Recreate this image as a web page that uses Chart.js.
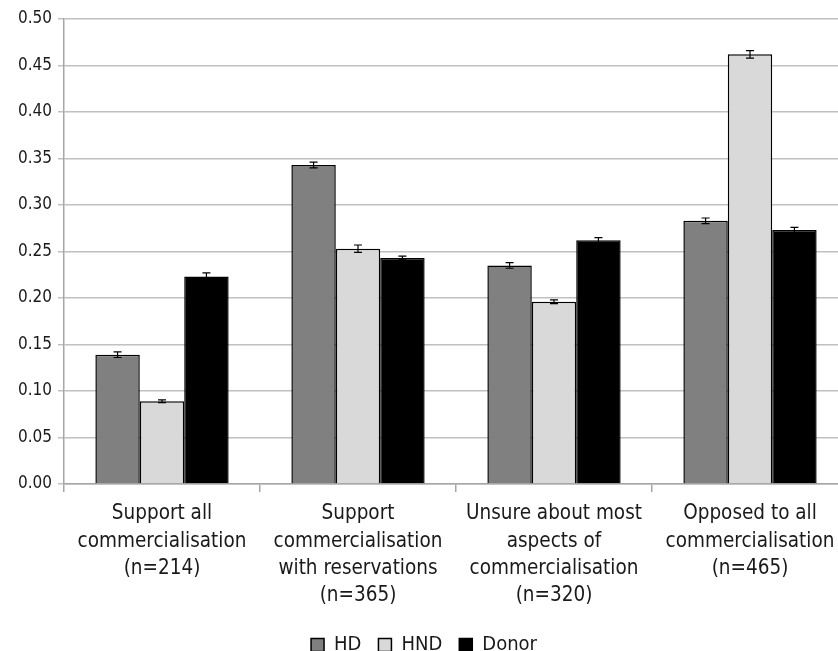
<!DOCTYPE html>
<html>
<head>
<meta charset="utf-8">
<script src="https://cdn.jsdelivr.net/npm/chart.js@4.4.1/dist/chart.umd.min.js"></script>
<style>
  html, body { margin: 0; padding: 0; background: #fff; }
  /* plot runs a little past the right edge in the original, so the canvas is wider and clipped */
  #wrap { width: 838px; height: 651px; overflow: hidden; }
</style>
</head>
<body>
<div id="wrap"><canvas id="chart" width="848" height="651"></canvas></div>
<script>
// categories (multi-line labels)
const categories = [
  ['Support all', 'commercialisation', '(n=214)'],
  ['Support', 'commercialisation', 'with reservations', '(n=365)'],
  ['Unsure about most', 'aspects of', 'commercialisation', '(n=320)'],
  ['Opposed to all', 'commercialisation', '(n=465)']
];

// proportions
const hdValues = [0.139, 0.343, 0.235, 0.283];
const hndValues = [0.089, 0.253, 0.196, 0.462];
const donorValues = [0.223, 0.243, 0.262, 0.273];

// error bar half-widths (estimated)
const hdErrors = [0.003, 0.003, 0.003, 0.003];
const hndErrors = [0.0015, 0.004, 0.002, 0.004];
const donorErrors = [0.004, 0.002, 0.003, 0.003];

const FONT = "'Liberation Sans Narrow', 'DejaVu Sans Condensed', 'Liberation Sans', sans-serif";

// Draw the little error bars on top of each bar
const errorBars = {
  id: 'errorBars',
  afterDatasetsDraw(chart) {
    const ctx = chart.ctx;
    const yScale = chart.scales.y;
    ctx.save();
    ctx.strokeStyle = '#000';
    ctx.lineWidth = 1.2;
    chart.data.datasets.forEach((ds, i) => {
      const meta = chart.getDatasetMeta(i);
      meta.data.forEach((bar, j) => {
        const v = ds.data[j];
        const e = ds.errors[j];
        const top = yScale.getPixelForValue(v + e);
        const bot = yScale.getPixelForValue(v - e);
        ctx.beginPath();
        ctx.moveTo(bar.x, top);
        ctx.lineTo(bar.x, bot);
        ctx.moveTo(bar.x - 4, top);
        ctx.lineTo(bar.x + 4, top);
        ctx.moveTo(bar.x - 4, bot);
        ctx.lineTo(bar.x + 4, bot);
        ctx.stroke();
      });
    });
    ctx.restore();
  }
};

const ctx = document.getElementById('chart').getContext('2d');

new Chart(ctx, {
  type: 'bar',
  data: {
    labels: categories,
    datasets: [
      {
        label: 'HD',
        data: hdValues,
        errors: hdErrors,
        backgroundColor: '#808080',
        borderColor: '#000',
        borderWidth: 1.5,
      },
      {
        label: 'HND',
        data: hndValues,
        errors: hndErrors,
        backgroundColor: '#d9d9d9',
        borderColor: '#000',
        borderWidth: 1.5,
      },
      {
        label: 'Donor',
        data: donorValues,
        errors: donorErrors,
        backgroundColor: '#000',
        borderColor: '#000',
        borderWidth: 1.5,
      },
    ],
  },
  options: {
    responsive: false,
    animation: false,
    layout: {
      padding: { top: 19, right: 0, left: 0, bottom: -14 },
    },
    datasets: {
      bar: {
        categoryPercentage: 0.68,
        barPercentage: 1.0,
      },
    },
    scales: {
      x: {
        afterFit: (scale) => { scale.height = 134; },
        grid: {
          offset: true,
          drawOnChartArea: false,
          color: '#a6a6a6',
          lineWidth: 1.5,
          tickLength: 8,
        },
        border: { color: '#a6a6a6', width: 1.5 },
        ticks: {
          color: '#1a1a1a',
          maxRotation: 0,
          autoSkip: false,
          padding: 8,
          font: { family: FONT, size: 20.5, lineHeight: 1.34 },
        },
      },
      y: {
        min: 0,
        max: 0.5,
        afterFit: (scale) => { scale.width = 64; },
        ticks: {
          stepSize: 0.05,
          color: '#1a1a1a',
          padding: 6,
          font: { family: FONT, size: 17 },
          callback: (v) => v.toFixed(2),
        },
        grid: {
          color: '#c0c0c0',
          lineWidth: 1.5,
          tickLength: 6,
        },
        border: { color: '#a6a6a6', width: 1.5 },
      },
    },
    plugins: {
      legend: {
        position: 'bottom',
        labels: {
          color: '#1a1a1a',
          boxWidth: 13,
          boxHeight: 13,
          padding: 17,
          font: { family: FONT, size: 20 },
        },
      },
      tooltip: { enabled: false },
    },
  },
  plugins: [errorBars],
});
</script>
</body>
</html>
